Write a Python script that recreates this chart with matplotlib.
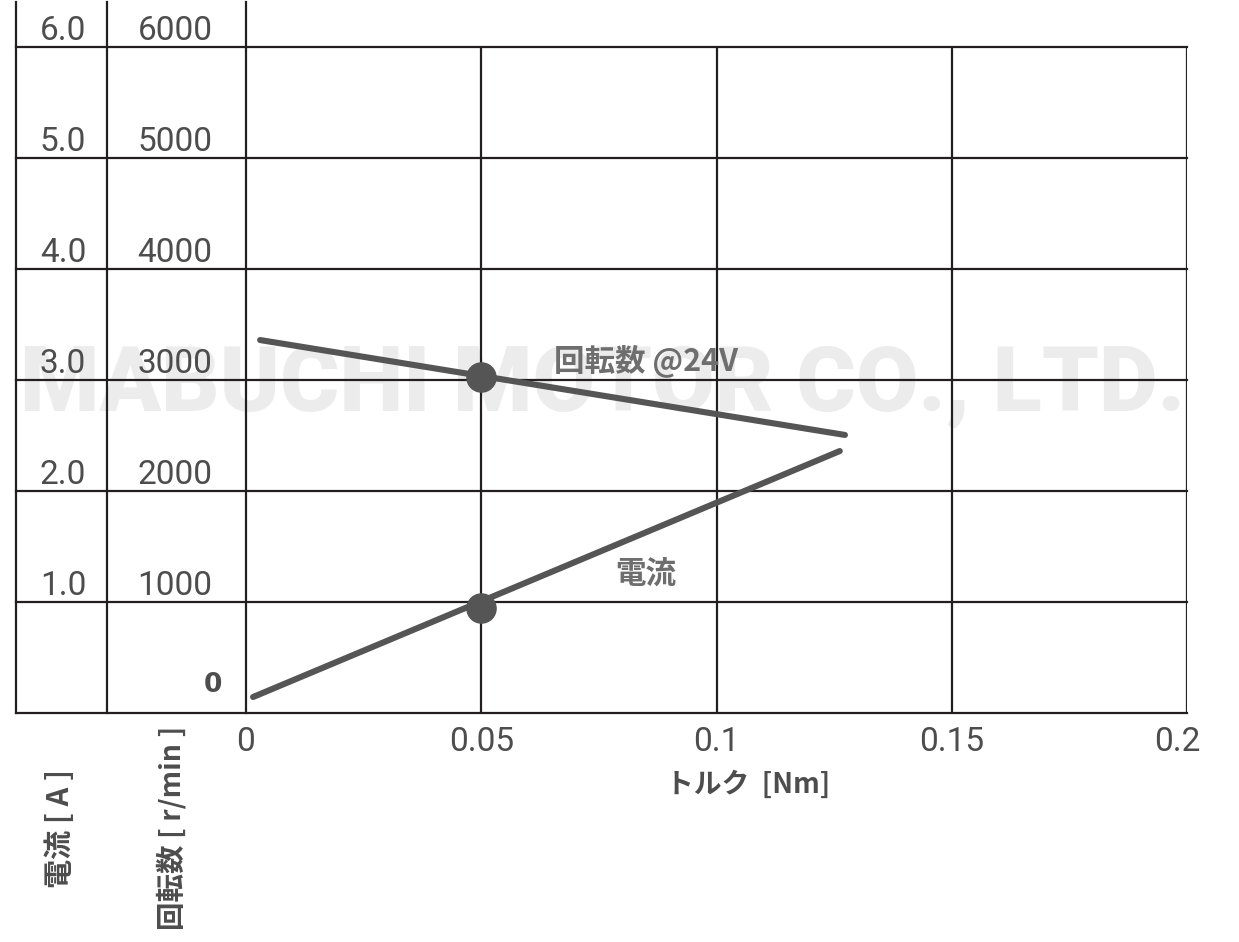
import matplotlib
matplotlib.use("Agg")
import matplotlib.pyplot as plt
from matplotlib import font_manager as fm

# ---- data ----
torque_ticks = [0, 0.05, 0.1, 0.15, 0.2]
torque_tick_labels = ["0", "0.05", "0.1", "0.15", "0.2"]
speed_ticks = [1000, 2000, 3000, 4000, 5000, 6000]
speed_tick_labels = ["1000", "2000", "3000", "4000", "5000", "6000"]
current_tick_labels = ["1.0", "2.0", "3.0", "4.0", "5.0", "6.0"]

speed_torque = [0.003, 0.1273]
speed_rpm = [3360, 2505]
current_torque = [0.0015, 0.1262]
current_amp = [0.144, 2.36]
dot_torque = [0.05]
dot_speed = [3030]
dot_current = [0.95]

tick_font = "Roboto"
cjk = ["Noto Sans CJK JP", "DejaVu Sans"]

W, H = 1239, 942
fig = plt.figure(figsize=(W / 100, H / 100), dpi=100)

def fx(px):
    return px / W

def fy(py):
    return 1 - py / H

x0, x1, y0, y1 = 246, 1187, 713, 47
ax = fig.add_axes([fx(x0), fy(y0), fx(x1) - fx(x0), fy(y1) - fy(y0)])
ax.set_xlim(0, 0.2)
ax.set_ylim(0, 6000)
ax.set_facecolor("none")
for s in ax.spines.values():
    s.set_visible(False)
ax.set_xticks([])
ax.set_yticks([])

grid_c = "#231f20"
line_c = "#555555"
glw = 1.6

def axfx(px):
    return (px - x0) / (x1 - x0)

def axfy(py):
    return (y0 - py) / (y0 - y1)

for v in [0] + speed_ticks:
    ax.plot([axfx(16), 1], [v, v], color=grid_c, lw=glw, clip_on=False,
            transform=ax.get_yaxis_transform(), zorder=2)
for t in torque_ticks[1:]:
    ax.plot([t, t], [0, 6000], color=grid_c, lw=glw, zorder=2)
for px in [16, 107, 246]:
    ax.plot([axfx(px), axfx(px)], [0, axfy(2)], color=grid_c, lw=glw,
            transform=ax.transAxes, clip_on=False, zorder=2)

# watermark (behind everything)
wm = fig.text(fx(602), fy(385), "MABUCHI MOTOR CO., LTD.", fontsize=62,
              fontweight="black", color="#ececec", ha="center", va="center",
              family="Roboto", zorder=-5)
# fit watermark width to 20..1185 px
fig.canvas.draw()
bb = wm.get_window_extent()
wm.set_fontsize(62 * (1165 / bb.width))

for v, lab_s, lab_c in zip(speed_ticks, speed_tick_labels, current_tick_labels):
    yv = ax.transData.transform((0, v))[1]
    fig.text(fx(63), yv / H + 16 / H, lab_c, fontsize=24, family=tick_font,
             color="#4d4d4d", ha="center", va="center", zorder=6)
    fig.text(fx(175), yv / H + 16 / H, lab_s, fontsize=24, family=tick_font,
             color="#4d4d4d", ha="center", va="center", zorder=6)
fig.text(fx(213), fy(685), "0", fontsize=19, fontweight="bold",
         family="DejaVu Sans", color="#4d4d4d", ha="center", va="center")

for t, lab in zip(torque_ticks, torque_tick_labels):
    xt = ax.transData.transform((t, 0))[0] / W
    if t == 0.2:
        xt -= 10 / W
    fig.text(xt, fy(742), lab, fontsize=24, family=tick_font, color="#4d4d4d",
             ha="center", va="center")

fig.text(fx(748), fy(785), "トルク  [Nm]", fontsize=20, fontweight="bold",
         family=cjk, color="#4d4d4d", ha="center", va="center")
fig.text(fx(60), fy(829), "電流 [ A ]", fontsize=21, fontweight="bold",
         family=cjk, color="#4d4d4d", ha="center", va="center", rotation=90)
fig.text(fx(172), fy(828), "回転数 [ r/min ]", fontsize=20.5, fontweight="bold",
         family=cjk, color="#4d4d4d", ha="center", va="center", rotation=90)

ax.text(0.0655, 3170, "回転数 @24V", fontsize=22, fontweight="bold",
        family=cjk, color="#6e6e6e", ha="left", va="center", zorder=3)
ax.text(0.0785, 1250, "電流", fontsize=22, fontweight="bold",
        family=cjk, color="#6e6e6e", ha="left", va="center", zorder=3)

ax.plot(speed_torque, speed_rpm, color=line_c, lw=4.4,
        solid_capstyle="round", zorder=4, clip_on=False)
ax.plot(dot_torque, dot_speed, "o", color=line_c, ms=21, zorder=5)

ax2 = ax.twinx()
ax2.set_ylim(0, 6)
ax2.set_xlim(0, 0.2)
ax2.axis("off")
ax2.plot(current_torque, current_amp, color=line_c, lw=4.4,
         solid_capstyle="round", zorder=4, clip_on=False)
ax2.plot(dot_torque, dot_current, "o", color=line_c, ms=21, zorder=5)

fig.savefig("out.png", dpi=100, facecolor="white")
